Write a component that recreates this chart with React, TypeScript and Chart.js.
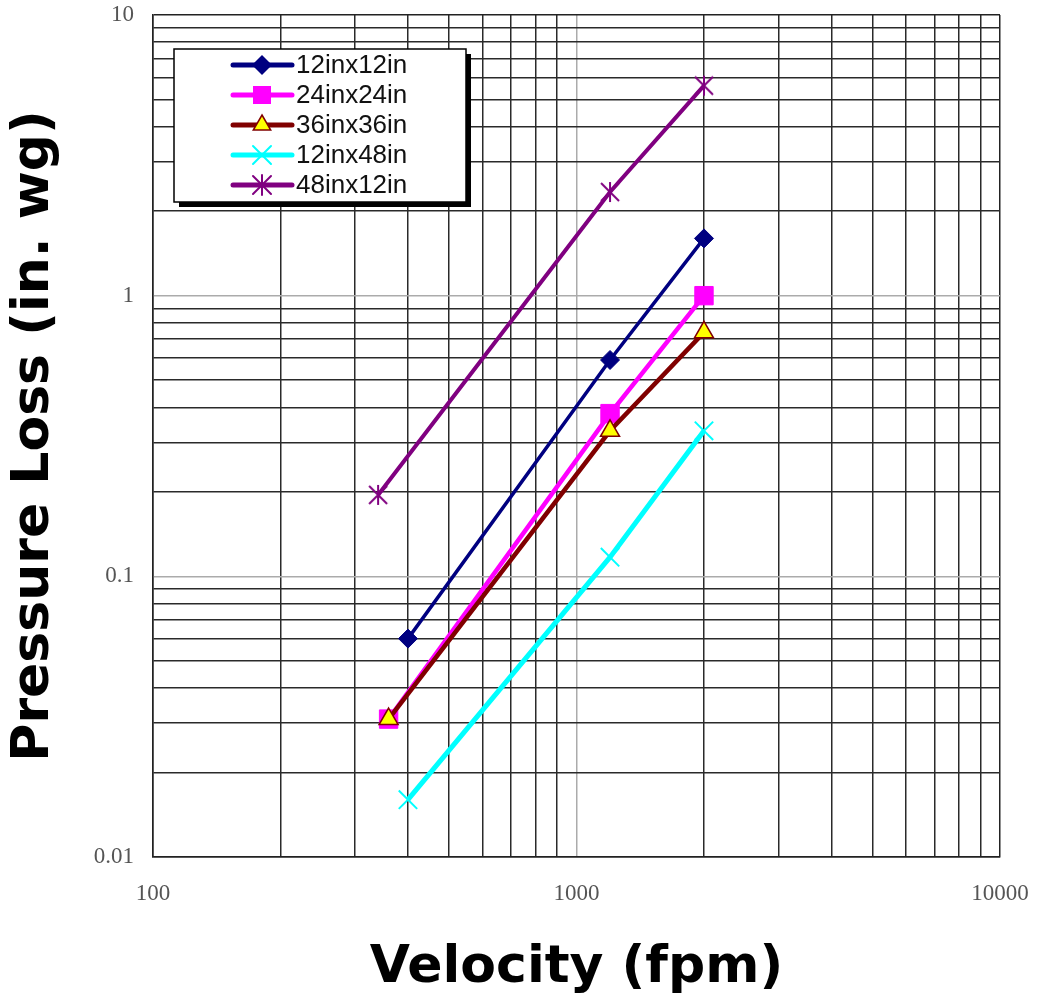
import React, { useEffect, useRef } from 'react';
import { Chart, registerables } from 'chart.js';

Chart.register(...registerables);

// ---------- data ----------
const seriesNames = ['12inx12in', '24inx24in', '36inx36in', '12inx48in', '48inx12in'];

const velocity12x12 = [400, 1200, 2000];
const loss12x12 = [0.06, 0.59, 1.6];

const velocity24x24 = [360, 1200, 2000];
const loss24x24 = [0.031, 0.38, 1.0];

const velocity36x36 = [360, 1200, 2000];
const loss36x36 = [0.031, 0.33, 0.74];

const velocity12x48 = [400, 1200, 2000];
const loss12x48 = [0.016, 0.117, 0.33];

const velocity48x12 = [340, 1200, 2000];
const loss48x12 = [0.195, 2.34, 5.6];

const xTickValues = [
  100, 200, 300, 400, 500, 600, 700, 800, 900,
  1000, 2000, 3000, 4000, 5000, 6000, 7000, 8000, 9000,
  10000,
];
const yTickValues = [
  0.01, 0.02, 0.03, 0.04, 0.05, 0.06, 0.07, 0.08, 0.09,
  0.1, 0.2, 0.3, 0.4, 0.5, 0.6, 0.7, 0.8, 0.9,
  1, 2, 3, 4, 5, 6, 7, 8, 9,
  10,
];
const xLabelValues = [100, 1000, 10000];
const yLabelValues = [0.01, 0.1, 1, 10];

const xTitle = 'Velocity (fpm)';
const yTitle = 'Pressure Loss (in. wg)';

// ---------- styles ----------
const lineColors = ['#000080', '#FF00FF', '#800000', '#00FFFF', '#800080'];
const lineWidths = [3.5, 4.5, 4.5, 5, 4];

function makeAsterisk(color: string, r: number, lw: number): HTMLCanvasElement {
  const s = Math.ceil(2 * r + lw * 2);
  const c = document.createElement('canvas');
  c.width = s;
  c.height = s;
  const g = c.getContext('2d')!;
  g.strokeStyle = color;
  g.lineWidth = lw;
  const cx = s / 2;
  const d = r * 0.9;
  g.beginPath();
  g.moveTo(cx, cx - r);
  g.lineTo(cx, cx + r);
  g.moveTo(cx - d, cx - d);
  g.lineTo(cx + d, cx + d);
  g.moveTo(cx + d, cx - d);
  g.lineTo(cx - d, cx + d);
  g.stroke();
  return c;
}

function isDecade(v: number) {
  const l = Math.log10(v);
  return Math.abs(l - Math.round(l)) < 1e-9;
}

function drawLegendMarker(ctx: CanvasRenderingContext2D, i: number, x: number, y: number) {
  ctx.save();
  ctx.beginPath();
  if (i === 0) {
    const r = 10;
    ctx.moveTo(x, y - r);
    ctx.lineTo(x + r, y);
    ctx.lineTo(x, y + r);
    ctx.lineTo(x - r, y);
    ctx.closePath();
    ctx.fillStyle = lineColors[0];
    ctx.fill();
  } else if (i === 1) {
    ctx.fillStyle = lineColors[1];
    ctx.fillRect(x - 9, y - 9, 18, 18);
  } else if (i === 2) {
    const r = 10;
    ctx.moveTo(x, y - r);
    ctx.lineTo(x + r * 0.87, y + r / 2);
    ctx.lineTo(x - r * 0.87, y + r / 2);
    ctx.closePath();
    ctx.fillStyle = '#FFFF00';
    ctx.fill();
    ctx.strokeStyle = lineColors[2];
    ctx.lineWidth = 1.5;
    ctx.stroke();
  } else if (i === 3) {
    const d = 9;
    ctx.moveTo(x - d, y - d);
    ctx.lineTo(x + d, y + d);
    ctx.moveTo(x + d, y - d);
    ctx.lineTo(x - d, y + d);
    ctx.strokeStyle = lineColors[3];
    ctx.lineWidth = 2;
    ctx.stroke();
  } else {
    const r = 10;
    const d = 9;
    ctx.moveTo(x, y - r);
    ctx.lineTo(x, y + r);
    ctx.moveTo(x - d, y - d);
    ctx.lineTo(x + d, y + d);
    ctx.moveTo(x + d, y - d);
    ctx.lineTo(x - d, y + d);
    ctx.strokeStyle = lineColors[4];
    ctx.lineWidth = 2;
    ctx.stroke();
  }
  ctx.restore();
}

const legendPlugin = {
  id: 'boxLegend',
  afterDraw(chart: any) {
    const ctx: CanvasRenderingContext2D = chart.ctx;
    const bx = 174, by = 49, bw = 292, bh = 153;
    ctx.save();
    ctx.fillStyle = '#000';
    ctx.fillRect(bx + 5, by + 5, bw, bh);
    ctx.fillStyle = '#fff';
    ctx.fillRect(bx, by, bw, bh);
    ctx.strokeStyle = '#000';
    ctx.lineWidth = 1.5;
    ctx.strokeRect(bx, by, bw, bh);
    seriesNames.forEach((name, i) => {
      const y = 65 + i * 30;
      ctx.beginPath();
      ctx.moveTo(233, y);
      ctx.lineTo(292, y);
      ctx.strokeStyle = lineColors[i];
      ctx.lineWidth = 5;
      ctx.lineCap = 'round';
      ctx.stroke();
      drawLegendMarker(ctx, i, 262, y);
      ctx.fillStyle = '#111';
      ctx.font = '26px "Liberation Sans", Arial, sans-serif';
      ctx.textBaseline = 'middle';
      ctx.textAlign = 'left';
      ctx.fillText(name, 296, y + 1);
    });
    ctx.restore();
  },
};

export default function App() {
  const ref = useRef<HTMLCanvasElement | null>(null);

  useEffect(() => {
    if (!ref.current) return;
    const toPts = (xs: number[], ys: number[]) => xs.map((x, i) => ({ x, y: ys[i] }));
    const pts = [
      toPts(velocity12x12, loss12x12),
      toPts(velocity24x24, loss24x24),
      toPts(velocity36x36, loss36x36),
      toPts(velocity12x48, loss12x48),
      toPts(velocity48x12, loss48x12),
    ];
    const pointStyles: any[] = ['rectRot', 'rect', 'triangle', 'crossRot', makeAsterisk('#800080', 10, 2)];
    const pointRadii = [9.5, 13, 11, 13, 10];
    const pointBg = ['#000080', '#FF00FF', '#FFFF00', '#00FFFF', '#800080'];
    const pointBorderW = [1, 1, 1.5, 2, 2];

    const datasets = pts.map((data, i) => ({
      label: seriesNames[i],
      data,
      borderColor: lineColors[i],
      borderWidth: lineWidths[i],
      backgroundColor: pointBg[i],
      pointStyle: pointStyles[i],
      pointRadius: pointRadii[i],
      pointBackgroundColor: pointBg[i],
      pointBorderColor: lineColors[i],
      pointBorderWidth: pointBorderW[i],
      tension: 0,
      fill: false,
      order: 4 - i,
    }));

    const gridColor = (min: number, max: number) => (c: any) => {
      const v = c.tick ? c.tick.value : 0;
      if (v === min || v === max) return '#222';
      return isDecade(v) ? '#ababab' : '#2a2a2a';
    };

    const tickFont = { family: '"Liberation Serif", "Times New Roman", serif', size: 23 };

    const chart = new Chart(ref.current, {
      type: 'line',
      data: { datasets },
      plugins: [legendPlugin],
      options: {
        responsive: false,
        animation: false,
        events: [],
        layout: { padding: { top: 15, right: 41, left: 0, bottom: 0 } },
        plugins: {
          legend: { display: false },
          tooltip: { enabled: false },
          title: { display: false },
        },
        scales: {
          x: {
            type: 'logarithmic',
            position: 'bottom',
            min: 100,
            max: 10000,
            afterBuildTicks: (scale: any) => {
              scale.ticks = xTickValues.map((v) => ({ value: v }));
            },
            afterFit: (scale: any) => {
              scale.height = 145;
              scale.paddingLeft = 0;
              scale.paddingRight = 0;
            },
            ticks: {
              autoSkip: false,
              maxRotation: 0,
              minRotation: 0,
              padding: 23,
              color: '#555',
              font: tickFont,
              callback: (v: any) => (xLabelValues.includes(Number(v)) ? String(v) : ''),
            },
            grid: {
              drawTicks: false,
              color: gridColor(100, 10000),
              lineWidth: 1.5,
            },
            border: { display: true, color: '#222', width: 1.5 },
            title: {
              display: true,
              text: xTitle,
              color: '#000',
              font: { family: '"DejaVu Sans", sans-serif', size: 52, weight: 'bold', lineHeight: 1 },
              padding: { top: 0, bottom: 8 },
            },
          },
          y: {
            type: 'logarithmic',
            position: 'left',
            min: 0.01,
            max: 10,
            afterBuildTicks: (scale: any) => {
              scale.ticks = yTickValues.map((v) => ({ value: v }));
            },
            afterFit: (scale: any) => {
              scale.width = 153;
              scale.paddingTop = 0;
              scale.paddingBottom = 0;
            },
            ticks: {
              autoSkip: false,
              padding: 19,
              color: '#555',
              font: tickFont,
              callback: (v: any) => (yLabelValues.includes(Number(v)) ? String(v) : ''),
            },
            grid: {
              drawTicks: false,
              color: gridColor(0.01, 10),
              lineWidth: 1.5,
            },
            border: { display: true, color: '#222', width: 1.5 },
            title: {
              display: true,
              text: yTitle,
              color: '#000',
              font: { family: '"DejaVu Sans", sans-serif', size: 52, weight: 'bold', lineHeight: 1 },
              padding: { top: 8, bottom: 0 },
            },
          },
        },
      } as any,
    });
    return () => chart.destroy();
  }, []);

  return (
    <div style={{ position: 'fixed', left: 0, top: 0, width: 1041, height: 1002, background: '#fff' }}>
      <canvas ref={ref} width={1041} height={1002} style={{ display: 'block' }} />
    </div>
  );
}
